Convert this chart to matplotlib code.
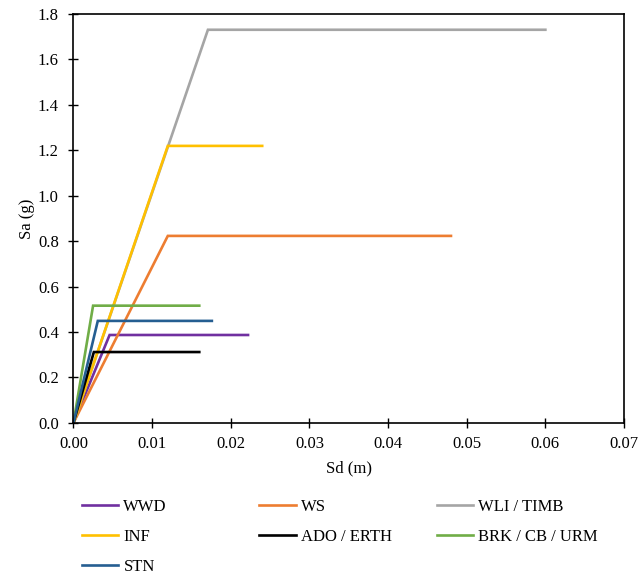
import matplotlib

matplotlib.use("Agg")

import matplotlib.pyplot as plt
from matplotlib.ticker import FormatStrFormatter

plt.rcParams["font.family"] = ["Liberation Serif", "DejaVu Serif"]

# capacity curves: origin -> yield point -> ultimate point
labels = ["WWD", "WS", "WLI / TIMB", "INF", "ADO / ERTH", "BRK / CB / URM", "STN"]
colors = ["#7030A0", "#ED7D31", "#A5A5A5", "#FFC000", "#000000", "#70AD47", "#255E91"]
sd_yield = [0.0046, 0.0120, 0.0171, 0.0120, 0.0026, 0.0025, 0.0031]
sa_yield = [0.387, 0.823, 1.730, 1.219, 0.312, 0.516, 0.449]
sd_ult = [0.0222, 0.0480, 0.0600, 0.0240, 0.0160, 0.0160, 0.0176]

x_ticks = [0.00, 0.01, 0.02, 0.03, 0.04, 0.05, 0.06, 0.07]
y_ticks = [0.0, 0.2, 0.4, 0.6, 0.8, 1.0, 1.2, 1.4, 1.6, 1.8]

fig = plt.figure(figsize=(6.44, 5.77), dpi=100)
ax = fig.add_axes([0.114, 0.267, 0.855, 0.709])

handles = []
for lab, col, dy, ay, du in zip(labels, colors, sd_yield, sa_yield, sd_ult):
    (ln,) = ax.plot([0, dy, du], [0, ay, ay], color=col, lw=1.9, label=lab,
                    solid_joinstyle="miter")
    handles.append(ln)

ax.set_xlim(0, 0.07)
ax.set_ylim(0, 1.8)
ax.set_xticks(x_ticks)
ax.set_yticks(y_ticks)
ax.xaxis.set_major_formatter(FormatStrFormatter("%.2f"))
ax.yaxis.set_major_formatter(FormatStrFormatter("%.1f"))
ax.tick_params(direction="inout", length=7, width=1, labelsize=12)
ax.tick_params(axis="x", pad=6)
ax.tick_params(axis="y", pad=7)
for sp in ax.spines.values():
    sp.set_linewidth(1.2)
ax.set_xlabel("Sd (m)", fontsize=12, labelpad=6)
ax.set_ylabel("Sa (g)", fontsize=12, labelpad=2)

# Excel style legend: three equal-width columns below the plot
col_x = [0.127, 0.402, 0.678]
for i, x0 in enumerate(col_x):
    hs = handles[i::3]
    fig.legend(handles=hs, labels=[h.get_label() for h in hs],
               loc="upper left", bbox_to_anchor=(x0, 0.136), frameon=False,
               fontsize=12, handlelength=2.2, handletextpad=0.3,
               labelspacing=0.85, borderpad=0, borderaxespad=0)

fig.savefig("out.png", dpi=100)
